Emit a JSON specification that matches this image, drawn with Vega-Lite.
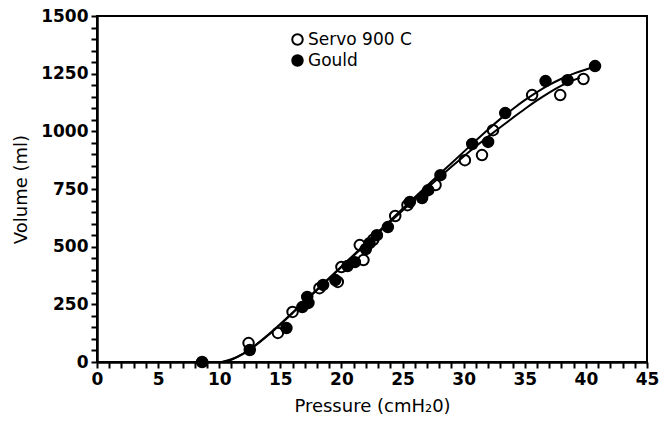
{
  "$schema": "https://vega.github.io/schema/vega-lite/v6.json",
  "autosize": "none",
  "width": 550,
  "height": 346,
  "padding": {"left": 97, "top": 16, "right": 14, "bottom": 64},
  "background": "white",
  "config": {
    "view": {"stroke": "black", "strokeWidth": 2},
    "font": "DejaVu Sans"
  },
  "datasets": {
    "points": [
      {"device": "Gould", "pressure": 8.6, "volume": 0},
      {"device": "Gould", "pressure": 12.5, "volume": 52},
      {"device": "Gould", "pressure": 15.5, "volume": 147},
      {"device": "Gould", "pressure": 16.8, "volume": 238},
      {"device": "Gould", "pressure": 17.3, "volume": 256},
      {"device": "Gould", "pressure": 17.2, "volume": 282},
      {"device": "Gould", "pressure": 18.5, "volume": 334},
      {"device": "Gould", "pressure": 19.5, "volume": 355},
      {"device": "Gould", "pressure": 20.5, "volume": 416},
      {"device": "Gould", "pressure": 21.1, "volume": 433},
      {"device": "Gould", "pressure": 22.0, "volume": 490},
      {"device": "Gould", "pressure": 22.3, "volume": 515},
      {"device": "Gould", "pressure": 22.9, "volume": 550},
      {"device": "Gould", "pressure": 23.8, "volume": 585},
      {"device": "Gould", "pressure": 25.6, "volume": 694},
      {"device": "Gould", "pressure": 26.6, "volume": 711},
      {"device": "Gould", "pressure": 27.1, "volume": 745},
      {"device": "Gould", "pressure": 28.1, "volume": 810},
      {"device": "Gould", "pressure": 30.7, "volume": 945},
      {"device": "Gould", "pressure": 32.0, "volume": 954},
      {"device": "Gould", "pressure": 33.4, "volume": 1079},
      {"device": "Gould", "pressure": 36.7, "volume": 1218},
      {"device": "Gould", "pressure": 38.5, "volume": 1222},
      {"device": "Gould", "pressure": 40.75, "volume": 1283},
      {"device": "Servo 900 C", "pressure": 12.4, "volume": 82},
      {"device": "Servo 900 C", "pressure": 14.8, "volume": 126},
      {"device": "Servo 900 C", "pressure": 16.0, "volume": 217},
      {"device": "Servo 900 C", "pressure": 18.2, "volume": 320},
      {"device": "Servo 900 C", "pressure": 19.7, "volume": 347},
      {"device": "Servo 900 C", "pressure": 20.0, "volume": 412},
      {"device": "Servo 900 C", "pressure": 21.5, "volume": 507},
      {"device": "Servo 900 C", "pressure": 21.8, "volume": 442},
      {"device": "Servo 900 C", "pressure": 22.6, "volume": 530},
      {"device": "Servo 900 C", "pressure": 24.4, "volume": 633},
      {"device": "Servo 900 C", "pressure": 25.4, "volume": 680},
      {"device": "Servo 900 C", "pressure": 27.7, "volume": 767},
      {"device": "Servo 900 C", "pressure": 30.1, "volume": 875},
      {"device": "Servo 900 C", "pressure": 31.5, "volume": 897},
      {"device": "Servo 900 C", "pressure": 32.4, "volume": 1005},
      {"device": "Servo 900 C", "pressure": 35.6, "volume": 1157},
      {"device": "Servo 900 C", "pressure": 37.9, "volume": 1157},
      {"device": "Servo 900 C", "pressure": 39.8, "volume": 1227}
    ],
    "curves": [
      {"fit": "Gould", "pressure": 10.2, "volume": 0},
      {"fit": "Gould", "pressure": 11, "volume": 12},
      {"fit": "Gould", "pressure": 12, "volume": 38},
      {"fit": "Gould", "pressure": 13, "volume": 75},
      {"fit": "Gould", "pressure": 14, "volume": 118},
      {"fit": "Gould", "pressure": 15, "volume": 165},
      {"fit": "Gould", "pressure": 16, "volume": 214},
      {"fit": "Gould", "pressure": 17, "volume": 264},
      {"fit": "Gould", "pressure": 18, "volume": 314},
      {"fit": "Gould", "pressure": 19, "volume": 364},
      {"fit": "Gould", "pressure": 20, "volume": 414},
      {"fit": "Gould", "pressure": 21, "volume": 464},
      {"fit": "Gould", "pressure": 22, "volume": 514},
      {"fit": "Gould", "pressure": 23, "volume": 564},
      {"fit": "Gould", "pressure": 24, "volume": 614},
      {"fit": "Gould", "pressure": 25, "volume": 664},
      {"fit": "Gould", "pressure": 26, "volume": 714},
      {"fit": "Gould", "pressure": 27, "volume": 764},
      {"fit": "Gould", "pressure": 28, "volume": 813},
      {"fit": "Gould", "pressure": 29, "volume": 862},
      {"fit": "Gould", "pressure": 30, "volume": 911},
      {"fit": "Gould", "pressure": 31, "volume": 960},
      {"fit": "Gould", "pressure": 32, "volume": 1008},
      {"fit": "Gould", "pressure": 33, "volume": 1054},
      {"fit": "Gould", "pressure": 34, "volume": 1096},
      {"fit": "Gould", "pressure": 35, "volume": 1135},
      {"fit": "Gould", "pressure": 36, "volume": 1170},
      {"fit": "Gould", "pressure": 37, "volume": 1201},
      {"fit": "Gould", "pressure": 38, "volume": 1228},
      {"fit": "Gould", "pressure": 39, "volume": 1250},
      {"fit": "Gould", "pressure": 40, "volume": 1268},
      {"fit": "Gould", "pressure": 40.75, "volume": 1281},
      {"fit": "Servo 900 C", "pressure": 10.3, "volume": 0},
      {"fit": "Servo 900 C", "pressure": 11, "volume": 10},
      {"fit": "Servo 900 C", "pressure": 12, "volume": 36},
      {"fit": "Servo 900 C", "pressure": 13, "volume": 73},
      {"fit": "Servo 900 C", "pressure": 14, "volume": 116},
      {"fit": "Servo 900 C", "pressure": 15, "volume": 163},
      {"fit": "Servo 900 C", "pressure": 16, "volume": 212},
      {"fit": "Servo 900 C", "pressure": 17, "volume": 262},
      {"fit": "Servo 900 C", "pressure": 18, "volume": 312},
      {"fit": "Servo 900 C", "pressure": 19, "volume": 362},
      {"fit": "Servo 900 C", "pressure": 20, "volume": 412},
      {"fit": "Servo 900 C", "pressure": 21, "volume": 461},
      {"fit": "Servo 900 C", "pressure": 22, "volume": 510},
      {"fit": "Servo 900 C", "pressure": 23, "volume": 559},
      {"fit": "Servo 900 C", "pressure": 24, "volume": 608},
      {"fit": "Servo 900 C", "pressure": 25, "volume": 657},
      {"fit": "Servo 900 C", "pressure": 26, "volume": 705},
      {"fit": "Servo 900 C", "pressure": 27, "volume": 753},
      {"fit": "Servo 900 C", "pressure": 28, "volume": 800},
      {"fit": "Servo 900 C", "pressure": 29, "volume": 846},
      {"fit": "Servo 900 C", "pressure": 30, "volume": 891},
      {"fit": "Servo 900 C", "pressure": 31, "volume": 935},
      {"fit": "Servo 900 C", "pressure": 32, "volume": 977},
      {"fit": "Servo 900 C", "pressure": 33, "volume": 1018},
      {"fit": "Servo 900 C", "pressure": 34, "volume": 1058},
      {"fit": "Servo 900 C", "pressure": 35, "volume": 1097},
      {"fit": "Servo 900 C", "pressure": 36, "volume": 1134},
      {"fit": "Servo 900 C", "pressure": 37, "volume": 1168},
      {"fit": "Servo 900 C", "pressure": 38, "volume": 1198},
      {"fit": "Servo 900 C", "pressure": 39, "volume": 1222},
      {"fit": "Servo 900 C", "pressure": 39.5, "volume": 1232}
    ]
  },
  "encoding": {
    "x": {
      "field": "pressure", "type": "quantitative",
      "scale": {"domain": [0, 45], "nice": false},
      "axis": {
        "title": "Pressure (cmH₂0)",
        "titleFont": "DejaVu Sans", "titleFontSize": 18, "titleFontWeight": "normal", "titleColor": "black", "titlePadding": 10,
        "values": [0,1,2,3,4,5,6,7,8,9,10,11,12,13,14,15,16,17,18,19,20,21,22,23,24,25,26,27,28,29,30,31,32,33,34,35,36,37,38,39,40,41,42,43,44,45],
        "labelExpr": "datum.value % 5 === 0 ? datum.label : ''",
        "labelOverlap": false, "labelFlush": false, "labelFont": "DejaVu Sans", "labelFontSize": 17, "labelFontWeight": "bold", "labelColor": "black", "labelPadding": 3,
        "grid": false, "domainColor": "black", "domainWidth": 2.5, "tickColor": "black", "tickWidth": 2, "tickSize": 6,
        "encode": {"ticks": {"update": {
          "y": [{"test": "datum.value % 5 === 0", "value": -6}, {"value": -3}],
          "y2": [{"test": "datum.value % 5 === 0", "value": 6}, {"value": 3}]
        }}}
      }
    },
    "y": {
      "field": "volume", "type": "quantitative",
      "scale": {"domain": [0, 1500], "nice": false},
      "axis": {
        "title": "Volume (ml)",
        "titleFont": "DejaVu Sans", "titleFontSize": 18, "titleFontWeight": "normal", "titleColor": "black", "titlePadding": 10,
        "values": [0,50,100,150,200,250,300,350,400,450,500,550,600,650,700,750,800,850,900,950,1000,1050,1100,1150,1200,1250,1300,1350,1400,1450,1500],
        "labelExpr": "datum.value % 250 === 0 ? datum.label : ''",
        "format": "d",
        "labelOverlap": false, "labelFlush": false, "labelFont": "DejaVu Sans", "labelFontSize": 17, "labelFontWeight": "bold", "labelColor": "black", "labelPadding": 3,
        "grid": false, "domainColor": "black", "domainWidth": 2.5, "tickColor": "black", "tickWidth": 2, "tickSize": 6,
        "encode": {"ticks": {"update": {
          "x": [{"test": "datum.value % 250 === 0", "value": -6}, {"value": -3}],
          "x2": [{"test": "datum.value % 250 === 0", "value": 6}, {"value": 3}]
        }}}
      }
    }
  },
  "layer": [
    {
      "data": {"name": "curves"},
      "mark": {"type": "line", "color": "black", "strokeWidth": 2, "interpolate": "monotone"},
      "encoding": {
        "detail": {"field": "fit"}
      }
    },
    {
      "data": {"name": "points"},
      "mark": {"type": "point", "shape": "circle", "stroke": "black", "strokeWidth": 2, "size": 110, "opacity": 1},
      "encoding": {
        "fill": {
          "field": "device", "type": "nominal",
          "scale": {"domain": ["Servo 900 C", "Gould"], "range": ["transparent", "black"]},
          "legend": {
            "title": null, "orient": "none", "legendX": 192, "legendY": 15,
            "labelFont": "DejaVu Sans", "labelFontSize": 17, "labelColor": "black", "labelOffset": 2,
            "symbolType": "circle", "symbolSize": 110, "symbolStrokeColor": "black", "symbolStrokeWidth": 2,
            "rowPadding": 2, "padding": 0
          }
        }
      }
    }
  ]
}
